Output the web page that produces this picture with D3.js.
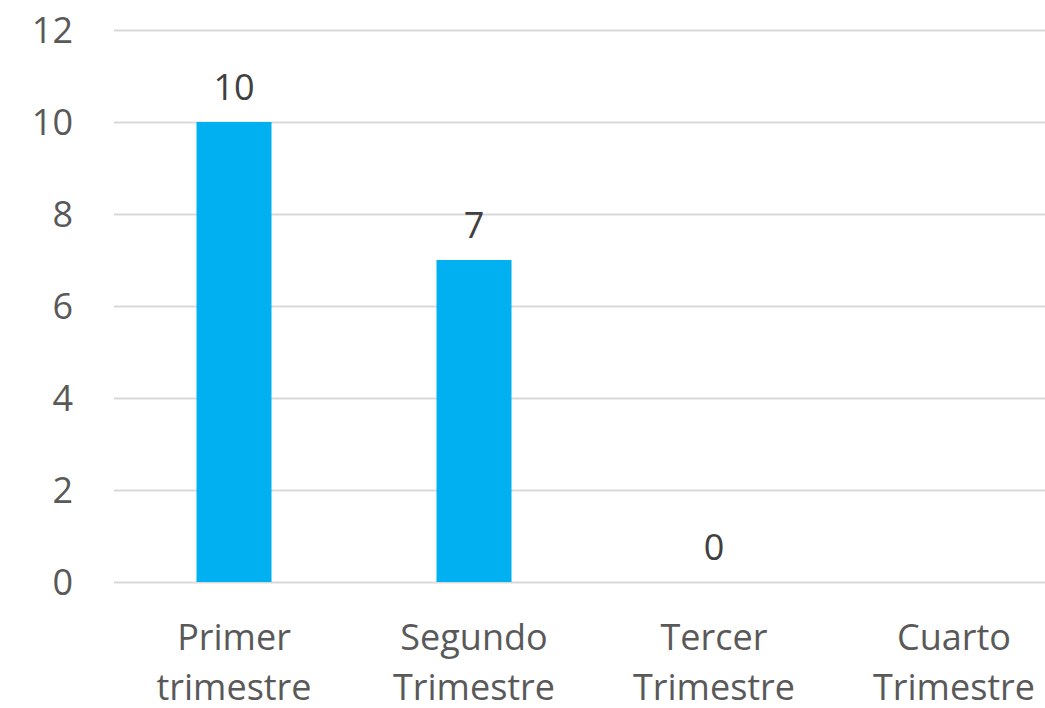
<!DOCTYPE html>
<html>
<head>
<meta charset="utf-8">
<script src="https://cdn.jsdelivr.net/npm/d3@7"></script>
<style>
  html, body { margin: 0; padding: 0; background: #fff; }
  svg { display: block; font-family: 'Open Sans', sans-serif; }
</style>
</head>
<body>
<div id="chart"></div>
<script>
// chart values
const categories = [['Primer', 'trimestre'], ['Segundo', 'Trimestre'], ['Tercer', 'Trimestre'], ['Cuarto', 'Trimestre']];
const values = [10, 7, 0, null];
const yTicks = [0, 2, 4, 6, 8, 10, 12];

const WIDTH = 1045, HEIGHT = 708;
const MARGIN = { left: 114, top: 30, right: -29, bottom: 126 };
const CHART_W = WIDTH - MARGIN.left - MARGIN.right;
const CHART_H = HEIGHT - MARGIN.top - MARGIN.bottom;
const FONT = '36px';

const svg = d3.select('#chart').append('svg')
  .attr('width', WIDTH)
  .attr('height', HEIGHT);

const container = svg.append('g')
  .attr('transform', 'translate(' + MARGIN.left + ',' + MARGIN.top + ')');

const xScale = d3.scaleBand()
  .domain(d3.range(categories.length))
  .range([0, CHART_W])
  .paddingInner(0.6875)
  .paddingOuter(0.34375);

const yScale = d3.scaleLinear()
  .domain([0, 12])
  .range([CHART_H, 0]);

// gridlines
container.append('g')
  .selectAll('line')
  .data(yTicks)
  .enter()
  .append('line')
  .attr('x1', 0)
  .attr('x2', CHART_W)
  .attr('y1', (d) => yScale(d) + 0.5)
  .attr('y2', (d) => yScale(d) + 0.5)
  .attr('stroke', '#d9d9d9')
  .attr('stroke-width', 2);

// y axis labels
const yAxis = container.append('g')
  .attr('transform', 'translate(-41,0)')
  .call(d3.axisLeft(yScale).tickValues(yTicks).tickSize(0).tickPadding(0));
yAxis.select('.domain').remove();
yAxis.selectAll('text')
  .attr('fill', '#595959')
  .style('font-size', FONT)
  .style('font-family', "'Open Sans', sans-serif")
  .attr('dy', '0.36em');

// bars
const barW = 75;
const center = (i) => xScale(i) + xScale.bandwidth() / 2;

container.append('g')
  .selectAll('rect')
  .data(values)
  .enter()
  .filter((d) => d !== null)
  .append('rect')
  .attr('x', (d, i) => center(i) - barW / 2)
  .attr('y', (d) => yScale(d))
  .attr('width', barW)
  .attr('height', (d) => CHART_H - yScale(d))
  .attr('fill', '#00b0f0');

// data labels
container.append('g')
  .selectAll('text')
  .data(values)
  .enter()
  .filter((d) => d !== null)
  .append('text')
  .attr('x', (d, i) => center(i))
  .attr('y', (d) => yScale(d) - 22)
  .attr('text-anchor', 'middle')
  .attr('fill', '#404040')
  .style('font-size', FONT)
  .text((d) => d);

// category labels
const cat = container.append('g')
  .selectAll('text')
  .data(categories)
  .enter()
  .append('text')
  .attr('text-anchor', 'middle')
  .attr('fill', '#595959')
  .style('font-size', FONT);

cat.selectAll('tspan')
  .data((d, i) => d.map((t) => ({ t: t, i: i })))
  .enter()
  .append('tspan')
  .attr('x', (d) => center(d.i))
  .attr('y', (d, j) => CHART_H + 68 + j * 50)
  .text((d) => d.t);
</script>
</body>
</html>
